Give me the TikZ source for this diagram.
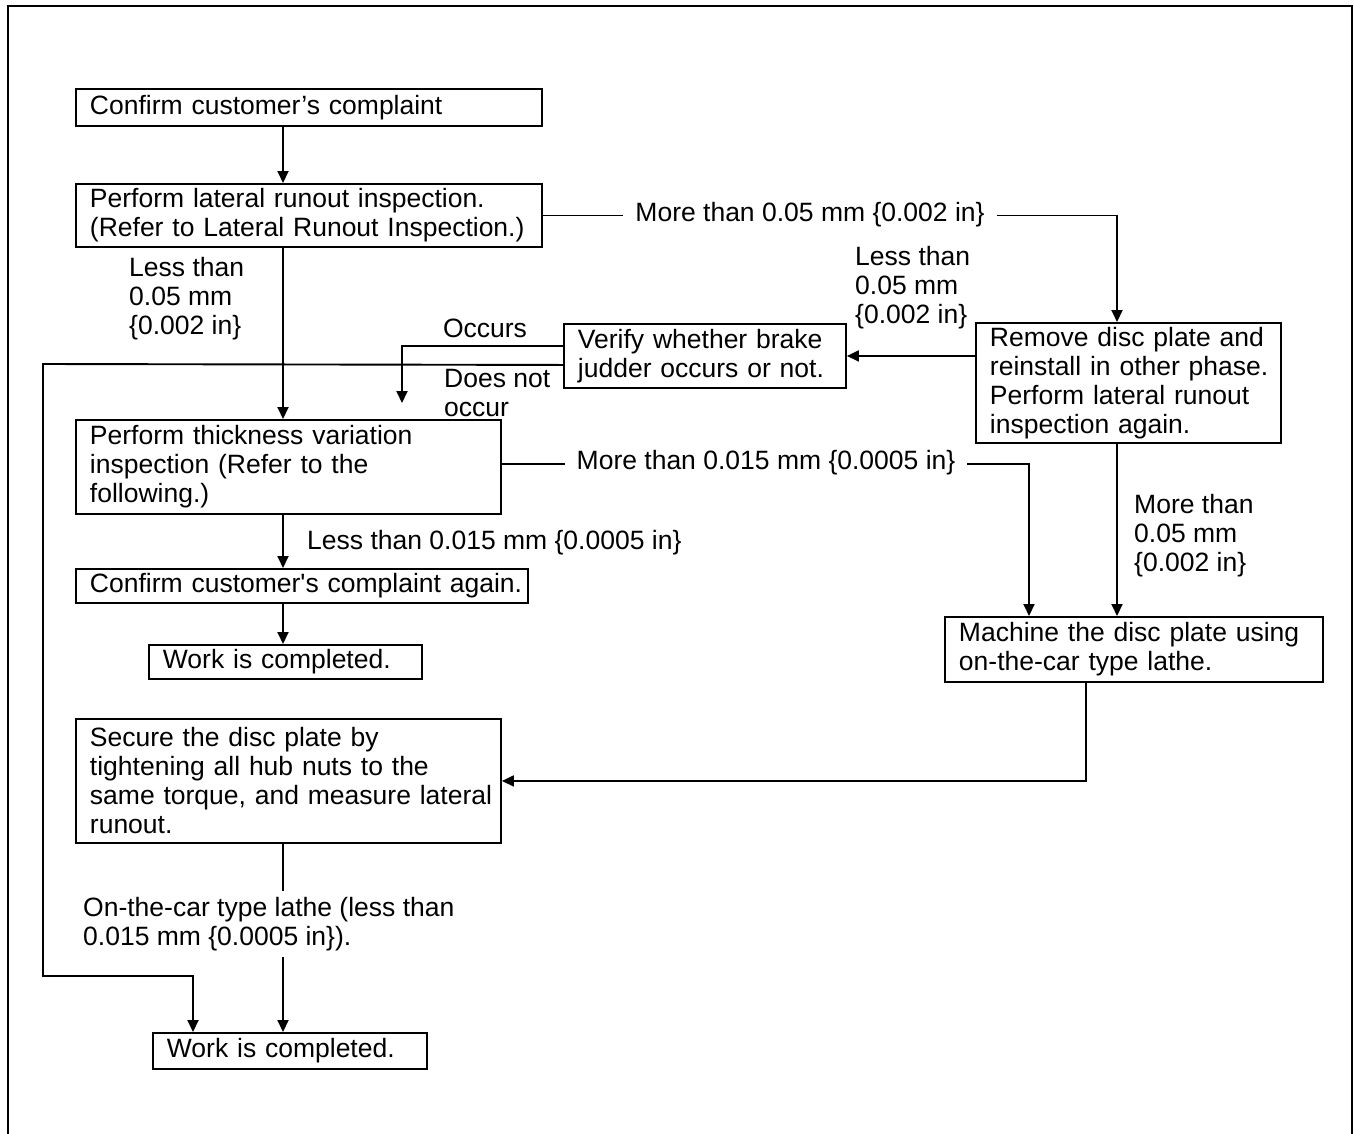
\documentclass[tikz,border=0pt]{standalone}
\usepackage{fontspec}
\setmainfont{Liberation Sans}
\usetikzlibrary{arrows.meta,calc}
\begin{document}
\begin{tikzpicture}[x=1pt,y=-1pt,
  every node/.style={font=\fontsize{26.5}{29}\selectfont},
  box/.style={draw,line width=1.9pt,anchor=north west,inner xsep=14pt,inner ysep=0pt,align=left},
  conn/.style={line width=1.9pt},
  arr/.style={conn,-{Triangle[length=12pt,width=11pt]}},
  lbl/.style={inner sep=0pt,align=left,anchor=west},
  ilbl/.style={fill=white,inner xsep=12pt,inner ysep=5pt,align=left}]
\useasboundingbox (0,0) rectangle (1354,1133);
% frame
\draw[line width=2.8pt] (8,1140) -- (8,6) -- (1352,6) -- (1352,1140);

% boxes
\node[box,text width=438pt,minimum height=37pt] (b1) at (75,88) {\mbox{Confirm customer’s complaint}};
\node[box,text width=438pt,minimum height=63pt] (b2) at (75,183) {\mbox{Perform lateral runout inspection.}\\\mbox{(Refer to Lateral Runout Inspection.)}};
\node[box,text width=254pt,minimum height=64pt] (b3) at (563,323) {\mbox{Verify whether brake}\\\mbox{judder occurs or not.}};
\node[box,text width=277pt,minimum height=120pt] (b4) at (975,322) {\mbox{Remove disc plate and}\\\mbox{reinstall in other phase.}\\\mbox{Perform lateral runout}\\\mbox{inspection again.}};
\node[box,text width=397pt,minimum height=94pt] (b5) at (75,419) {\mbox{Perform thickness variation}\\\mbox{inspection (Refer to the}\\\mbox{following.)}};
\node[box,text width=424pt,minimum height=34pt] (b6) at (75,568) {\mbox{Confirm customer\textquotesingle s complaint again.}};
\node[box,text width=245pt,minimum height=34pt] (b7) at (148,644) {\mbox{Work is completed.}};
\node[box,text width=350pt,minimum height=65pt] (b8) at (944,616) {\mbox{Machine the disc plate using}\\\mbox{on-the-car type lathe.}};
\node[box,text width=397pt,minimum height=124pt] (b9) at (75,718) {\mbox{Secure the disc plate by}\\\mbox{tightening all hub nuts to the}\\\mbox{same torque, and measure lateral}\\\mbox{runout.}};
\node[box,text width=246pt,minimum height=36pt] (b10) at (152,1032) {\mbox{Work is completed.}};

% helper coordinates
\coordinate (x283) at (283,0);
\coordinate (x1117) at (1117,0);
\coordinate (x1029) at (1029,0);
\coordinate (x1086) at (1086,0);
\coordinate (x193) at (193,0);
\coordinate (occ) at (402,403);
\coordinate (dl1) at (43,364);
\coordinate (dl2) at (43,976);

% connectors
\draw[arr] (b1.south -| x283) -- (b2.north -| x283);
\draw[arr] (b2.east) -| (b4.north -| x1117);
\draw[arr] (b2.south -| x283) -- (b5.north -| x283);
\draw[arr] (b4.west |- b3.east) -- (b3.east);
\draw[arr] ([yshift=10pt]b3.west) -| (occ);
\draw[arr] ([yshift=-9pt]b3.west) -- (dl1) -- (dl2) -| (b10.north -| x193);
\draw[arr] (b4.south -| x1117) -- (b8.north -| x1117);
\draw[arr] ([yshift=3pt]b5.east) -| (b8.north -| x1029);
\draw[arr] (b5.south -| x283) -- (b6.north -| x283);
\draw[arr] (b6.south -| x283) -- (b7.north -| x283);
\draw[arr] (b8.south -| x1086) |- (b9.east);
\draw[arr] (b9.south -| x283) -- (b10.north -| x283);

% labels
\node[ilbl] (l1) at (810,214.5) {More than 0.05 mm \{0.002 in\}};
\node[lbl] (l2) at (129,299) {Less than\\0.05 mm\\\{0.002 in\}};
\node[lbl] (l3) at (855,288) {Less than\\0.05 mm\\\{0.002 in\}};
\node[inner sep=0pt] (l4) at (485,328) {Occurs};
\node[lbl] (l5) at (444,393) {Does not\\occur};
\node[lbl] (l6) at (1134,536) {More than\\0.05 mm\\\{0.002 in\}};
\node[ilbl] (l7) at (766,463) {More than 0.015 mm \{0.0005 in\}};
\node[lbl] (l8) at (307,543) {Less than 0.015 mm \{0.0005 in\}};
\node[ilbl,anchor=west,inner xsep=2pt,inner ysep=6pt] (l9) at (81,924) {On-the-car type lathe (less than\\0.015 mm \{0.0005 in\}).};
\end{tikzpicture}
\end{document}
